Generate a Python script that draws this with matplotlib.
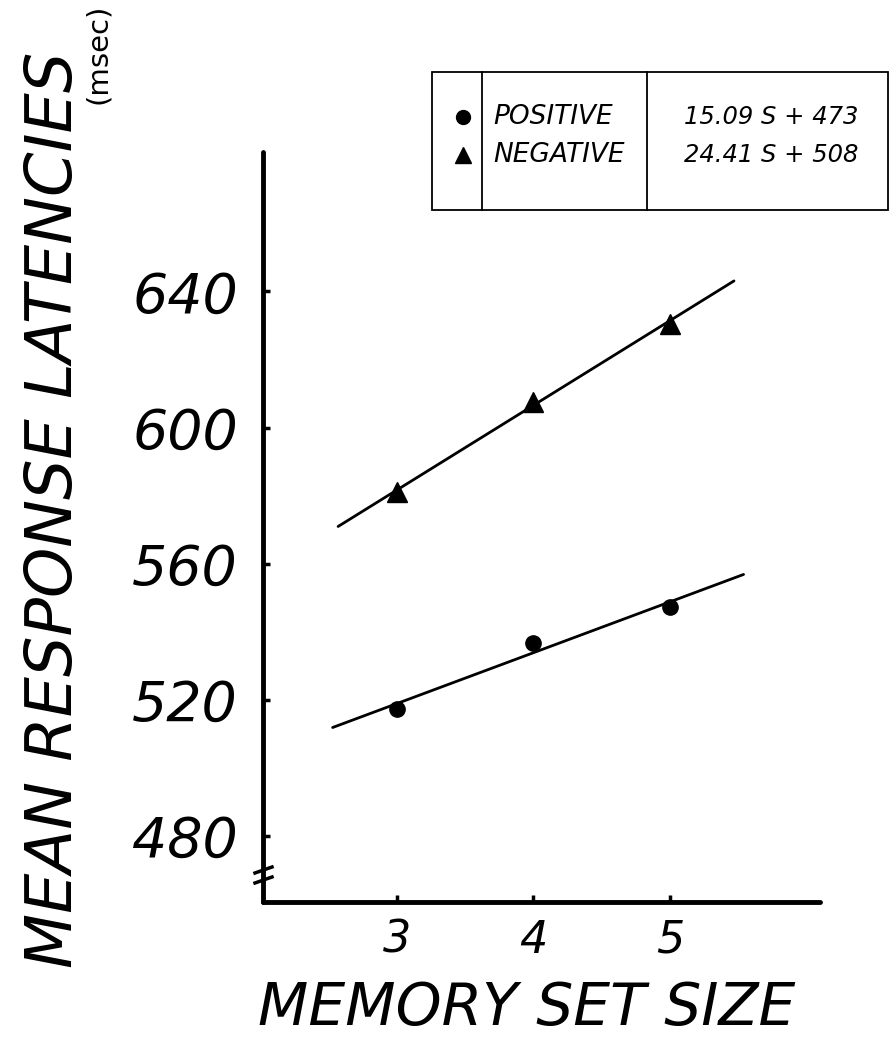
import matplotlib
matplotlib.use("Agg")
import matplotlib.pyplot as plt
from matplotlib.lines import Line2D
from matplotlib.patches import Rectangle

# data
set_sizes = [3, 4, 5]
positive_rt = [517.3, 536.7, 547.3]
negative_rt = [581.0, 607.6, 630.5]

# fitted lines (end points as drawn)
pos_fit_x = [2.53, 5.54]
pos_fit_y = [511.8, 556.8]
neg_fit_x = [2.57, 5.47]
neg_fit_y = [570.9, 643.1]

y_ticks = [480, 520, 560, 600, 640]
x_ticks = [3, 4, 5]
series_names = ["POSITIVE", "NEGATIVE"]
equations = ["15.09 S + 473", "24.41 S + 508"]

W, H = 890, 1042
fig = plt.figure(figsize=(W / 100, H / 100), dpi=100)
fig.patch.set_facecolor("white")


def fx(px):
    return px / W


def fy(py):
    return 1 - py / H


ax = fig.add_axes([fx(263), fy(902), fx(820) - fx(263), fy(152) - fy(902)])
ax.set_xlim(2.02, 6.10)
ax.set_ylim(460.5, 681)

ax.plot(pos_fit_x, pos_fit_y, color="black", lw=2.0, solid_capstyle="round")
ax.plot(neg_fit_x, neg_fit_y, color="black", lw=2.0, solid_capstyle="round")
ax.plot(set_sizes, positive_rt, "o", color="black", markersize=11, zorder=3)
ax.plot(set_sizes, negative_rt, "^", color="black", markersize=15, zorder=3)

for s in ["top", "right"]:
    ax.spines[s].set_visible(False)
for s in ["left", "bottom"]:
    ax.spines[s].set_linewidth(3.5)
    ax.spines[s].set_capstyle("round")

font = dict(family="DejaVu Sans", style="oblique")
ax.set_yticks(y_ticks)
ax.set_yticklabels([str(v) for v in y_ticks], fontsize=40, **font)
ax.set_xticks(x_ticks)
ax.set_xticklabels([str(v) for v in x_ticks], fontsize=32, **font)
ax.tick_params(axis="y", direction="in", length=5, width=2.5, pad=18)
ax.tick_params(axis="x", direction="in", length=5, width=2.5, pad=12)

# axis break marks
for y0 in (873, 883):
    fig.add_artist(Line2D([fx(255), fx(272)], [fy(y0), fy(y0 - 6)],
                          color="black", lw=2.5, transform=fig.transFigure))

# axis titles
fig.text(fx(54), fy(510), "MEAN RESPONSE LATENCIES", rotation=90,
         ha="center", va="center", fontsize=46, **font)
fig.text(fx(98), fy(54), "(msec)", rotation=90, ha="center", va="center",
         fontsize=21, family="DejaVu Sans")
fig.text(fx(527), fy(1008), "MEMORY SET SIZE", ha="center", va="center",
         fontsize=42, **font)

# key box
box_l, box_r, box_t, box_b = 432, 888, 72, 210
fig.add_artist(Rectangle((fx(box_l), fy(box_b)), fx(box_r) - fx(box_l),
                         fy(box_t) - fy(box_b), fill=False, lw=1.3,
                         edgecolor="black", transform=fig.transFigure))
for xd in (482, 647):
    fig.add_artist(Line2D([fx(xd), fx(xd)], [fy(box_t), fy(box_b)],
                          color="black", lw=1.3, transform=fig.transFigure))

row_y = [117, 155]
markers = ["o", "^"]
for ry, mk, name, eq in zip(row_y, markers, series_names, equations):
    fig.add_artist(Line2D([fx(463)], [fy(ry)], marker=mk, color="black",
                          markersize=10 if mk == "o" else 12, linestyle="none",
                          transform=fig.transFigure))
    fig.text(fx(493), fy(ry), name, ha="left", va="center", fontsize=19, **font)
    fig.text(fx(684), fy(ry), eq, ha="left", va="center", fontsize=17.5, **font)

fig.savefig("out.png", dpi=100, facecolor="white")
